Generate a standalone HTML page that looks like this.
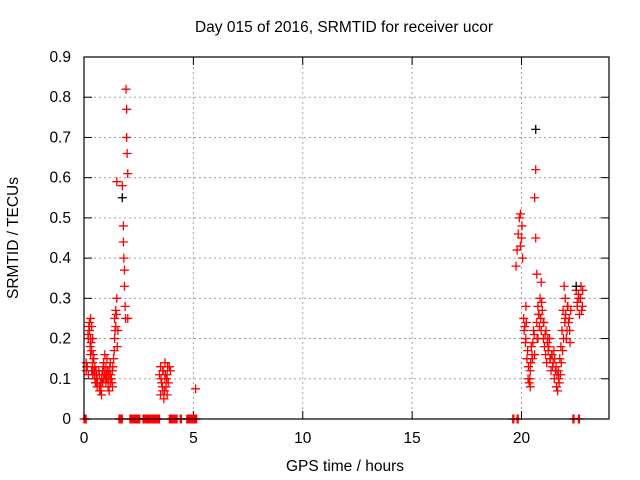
<!DOCTYPE html>
<html><head><meta charset="utf-8"><style>
body{margin:0;background:#fff;width:640px;height:480px;overflow:hidden}
svg{display:block;font-family:"Liberation Sans",sans-serif}
</style></head><body>
<svg id="chart" width="640" height="480" viewBox="0 0 640 480">
<text x="344" y="32" font-size="15.5" text-anchor="middle" fill="#000">Day 015 of 2016, SRMTID for receiver ucor</text>
<text x="345" y="471" font-size="15.5" text-anchor="middle">GPS time / hours</text>
<text transform="translate(18,238) rotate(-90)" font-size="15.5" text-anchor="middle">SRMTID / TECUs</text>
<g id="grid"></g>
<g id="ticks"></g>
<g id="marks"></g>
<rect x="84" y="57" width="525" height="362" fill="none" stroke="#000" stroke-width="1.2"/>
</svg>
<script>
const xTicks=[0,5,10,15,20];
const yTicks=[0,0.1,0.2,0.3,0.4,0.5,0.6,0.7,0.8,0.9];
const yTickLabels=["0","0.1","0.2","0.3","0.4","0.5","0.6","0.7","0.8","0.9"];
const zeroHours=[0,0.05,1.6,1.7,2.1,2.2,2.3,2.4,2.5,2.7,2.8,2.9,3.0,3.1,3.2,3.3,3.4,3.9,4.0,4.1,4.2,4.4,4.7,4.8,4.9,5.0,5.1,19.6,19.8,22.35,22.6];
const redHours=[0.1,0.1,0.15,0.2,0.2,0.25,0.25,0.3,0.3,0.3,0.35,0.35,0.35,0.4,0.4,0.4,0.45,0.45,0.5,0.5,0.55,0.55,0.6,0.6,0.7,0.7,0.75,0.75,0.8,0.8,0.85,0.85,0.9,0.9,0.95,0.95,1.0,1.0,1.05,1.05,1.1,1.1,1.15,1.15,1.2,1.2,1.25,1.3,1.3,1.35,1.4,1.4,1.45,1.45,1.5,1.55,1.5,1.75,1.8,1.8,1.82,1.85,1.85,1.88,1.9,1.92,1.95,1.95,1.97,2.0,2.0,
0.12,0.18,0.22,0.28,0.32,0.38,0.42,0.48,0.52,0.58,0.62,0.68,0.72,0.78,0.82,0.88,0.92,0.98,1.02,1.08,1.12,1.18,1.22,1.28,1.32,1.38,1.42,1.48,1.52,
3.45,3.5,3.5,3.55,3.6,3.6,3.65,3.7,3.7,3.75,3.8,3.8,3.85,3.9,3.95,3.52,3.58,3.62,3.68,3.72,3.78,3.82,5.1,
19.75,19.8,19.85,19.9,19.95,20.0,20.05,20.1,20.15,20.2,20.2,20.25,20.3,20.35,20.4,20.4,20.45,20.5,20.55,20.6,20.6,20.65,20.65,20.7,20.7,20.75,20.75,20.8,20.85,20.9,20.9,20.95,21.0,21.0,21.05,21.1,21.15,21.2,21.25,21.3,21.35,21.4,21.45,21.5,21.55,21.6,21.65,21.7,21.75,21.8,21.85,21.9,21.95,22.0,22.0,22.05,22.1,22.15,22.2,22.25,22.5,22.55,22.6,22.65,22.7,22.75,22.8,
19.95,20.02,20.12,20.18,20.22,20.28,20.32,20.38,20.42,20.48,20.52,20.58,20.72,20.78,20.82,20.88,20.92,21.02,21.08,21.12,21.18,21.22,21.28,21.32,21.38,21.42,21.48,21.52,21.58,21.62,21.68,21.72,21.78,21.82,21.88,21.92,21.98,22.02,22.08,22.12,22.18,22.22,22.55,22.62,22.72,22.78];
const redValues=[0.14,0.12,0.13,0.2,0.11,0.24,0.22,0.25,0.2,0.16,0.23,0.17,0.12,0.2,0.14,0.11,0.15,0.12,0.13,0.1,0.12,0.09,0.1,0.08,0.11,0.08,0.09,0.07,0.1,0.06,0.12,0.09,0.14,0.1,0.16,0.11,0.13,0.09,0.15,0.1,0.12,0.08,0.11,0.07,0.14,0.09,0.1,0.12,0.08,0.15,0.25,0.2,0.27,0.23,0.59,0.22,0.3,0.58,0.48,0.44,0.4,0.37,0.33,0.28,0.25,0.82,0.77,0.7,0.66,0.61,0.25,
0.13,0.21,0.23,0.18,0.19,0.13,0.16,0.11,0.09,0.11,0.09,0.12,0.07,0.08,0.11,0.13,0.12,0.1,0.11,0.12,0.1,0.13,0.11,0.09,0.13,0.17,0.22,0.26,0.18,
0.11,0.06,0.13,0.09,0.07,0.12,0.05,0.1,0.14,0.08,0.11,0.06,0.09,0.13,0.12,0.1,0.08,0.12,0.07,0.11,0.1,0.13,0.075,
0.38,0.42,0.46,0.5,0.51,0.45,0.4,0.25,0.23,0.2,0.28,0.15,0.1,0.09,0.08,0.12,0.18,0.15,0.22,0.16,0.55,0.62,0.45,0.36,0.24,0.2,0.28,0.26,0.3,0.34,0.22,0.27,0.2,0.24,0.18,0.16,0.14,0.2,0.18,0.15,0.12,0.16,0.14,0.1,0.12,0.08,0.07,0.1,0.15,0.18,0.22,0.27,0.33,0.3,0.25,0.2,0.28,0.24,0.22,0.27,0.32,0.29,0.31,0.26,0.3,0.27,0.32,
0.43,0.48,0.22,0.19,0.24,0.17,0.13,0.1,0.14,0.16,0.19,0.21,0.2,0.26,0.23,0.25,0.29,0.24,0.21,0.22,0.19,0.17,0.2,0.15,0.16,0.13,0.17,0.15,0.13,0.11,0.12,0.09,0.11,0.14,0.17,0.2,0.24,0.26,0.22,0.28,0.25,0.19,0.28,0.3,0.33,0.28];
const blackHours=[1.75,20.65,22.5];
const blackValues=[0.55,0.72,0.33];
const X0=84,X1=609,Y0=419,Y1=57,XMAX=24,YMAX=0.9;
const xs=v=>X0+(X1-X0)*v/XMAX, ys=v=>Y0-(Y0-Y1)*v/YMAX;
const NS="http://www.w3.org/2000/svg";
function mk(t,a,p){const e=document.createElementNS(NS,t);for(const k in a)e.setAttribute(k,a[k]);p.appendChild(e);return e;}
const grid=document.getElementById('grid'),ticks=document.getElementById('ticks'),marks=document.getElementById('marks');
xTicks.forEach(t=>{const x=xs(t);
 if(t>0&&t<XMAX){const g=mk('line',{x1:x,x2:x,y1:Y0,y2:Y1,stroke:'#a0a0a0','stroke-dasharray':'2,3'},grid);}
 const a=mk('line',{x1:x,x2:x,y1:Y0,y2:Y0-8,stroke:'#000'},ticks);
 const b=mk('line',{x1:x,x2:x,y1:Y1,y2:Y1+8,stroke:'#000'},ticks);
 const l=mk('text',{x:x,y:443,'font-size':15.5,'text-anchor':'middle'},ticks);l.textContent=t;});
yTicks.forEach((t,i)=>{const y=ys(t);
 if(t>0&&t<YMAX-1e-9){const g=mk('line',{x1:X0,x2:X1,y1:y,y2:y,stroke:'#a0a0a0','stroke-dasharray':'2,3'},grid);}
 const a=mk('line',{x1:X0,x2:X0+8,y1:y,y2:y,stroke:'#000'},ticks);
 const b=mk('line',{x1:X1,x2:X1-8,y1:y,y2:y,stroke:'#000'},ticks);
 const l=mk('text',{x:71,y:y+5,'font-size':15.5,'text-anchor':'end'},ticks);l.textContent=yTickLabels[i];});
function plus(h,v,c,name){const x=xs(h),y=ys(v);
 const p=mk('path',{d:`M${x-4.5},${y}H${x+4.5}M${x},${y-4.5}V${y+4.5}`,stroke:c,'stroke-width':1.3,fill:'none'},marks);
 
 }
zeroHours.forEach(h=>{plus(h,0,'#ff0000','zero-point');plus(h+0.05,0,'#ff0000','zero-point');});
redHours.forEach((h,i)=>plus(h,redValues[i],'#ff0000','srmtid-point'));
blackHours.forEach((h,i)=>plus(h,blackValues[i],'#000','srmtid-point-black'));
</script>
</body></html>
